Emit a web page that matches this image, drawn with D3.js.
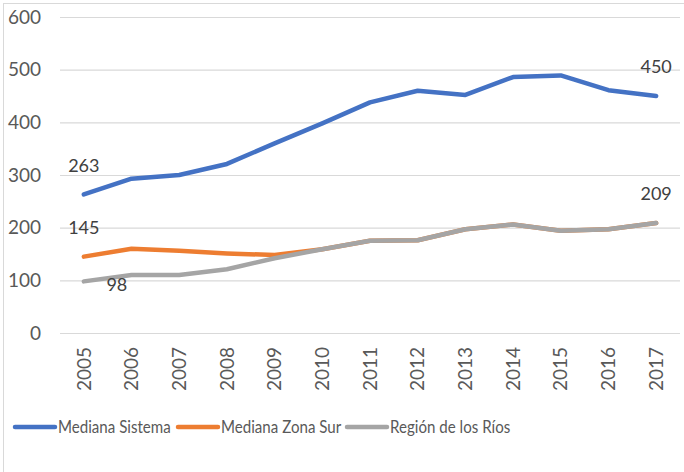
<!DOCTYPE html>
<html>
<head>
<meta charset="utf-8">
<script src="https://cdn.jsdelivr.net/npm/d3@7"></script>
<style>
  body { margin: 0; background: #fff; }
  svg { display: block; }
</style>
</head>
<body>
<div id="chart"></div>
<script>
'use strict'

// chart values
const years = ['2005', '2006', '2007', '2008', '2009', '2010', '2011', '2012', '2013', '2014', '2015', '2016', '2017']
const medianaSistema = [263, 293, 300, 321, 360, 398, 438, 460, 452, 486, 489, 461, 450]
const medianaZonaSur = [145, 160, 156, 151, 148, 159, 175, 176, 197, 206, 194, 197, 209]
const regionRios = [98, 110, 110, 121, 142, 159, 175, 176, 197, 206, 194, 197, 209]
const seriesNames = ['Mediana Sistema', 'Mediana Zona Sur', 'Región de los Ríos']
const seriesColors = ['#4472C4', '#ED7D31', '#A5A5A5']
const yTicks = [0, 100, 200, 300, 400, 500, 600]

const width = 684, height = 472
const margin = { top: 17, right: 4, bottom: 139, left: 60 }
const font = 'Lato, "Open Sans", sans-serif'

const svg = d3.select('#chart').append('svg')
    .attr('width', width)
    .attr('height', height)

// outer chart border
svg.append('rect')
    .attr('x', 3.5).attr('y', 3.5)
    .attr('width', width + 10).attr('height', height + 10)
    .attr('fill', 'none')
    .attr('stroke', '#d9d9d9')

const x = d3.scaleBand().domain(years).range([margin.left, width - margin.right])
const y = d3.scaleLinear().domain([0, 600]).range([height - margin.bottom, margin.top])
const cx = (d) => x(d) + x.bandwidth() / 2

// gridlines
svg.append('g')
    .selectAll('line')
    .data(yTicks)
    .join('line')
    .attr('x1', margin.left).attr('x2', width - margin.right)
    .attr('y1', (d) => y(d) + 0.5).attr('y2', (d) => y(d) + 0.5)
    .attr('stroke', '#d9d9d9')
    .attr('stroke-width', 1.2)

// y axis labels
const yAxis = svg.append('g')
    .attr('transform', `translate(41,0)`)
    .call(d3.axisLeft(y).tickValues(yTicks).tickSize(0).tickPadding(0))
yAxis.select('.domain').remove()
yAxis.selectAll('text')
    .attr('fill', '#595959')
    .style('font', `19px ${font}`)

// x axis labels, rotated
const xAxis = svg.append('g')
    .attr('transform', `translate(0,${y(0)})`)
    .call(d3.axisBottom(x).tickSize(0).tickPadding(0))
xAxis.select('.domain').remove()
xAxis.selectAll('text')
    .attr('fill', '#595959')
    .style('font', `19px ${font}`)
    .attr('text-anchor', 'end')
    .attr('dy', '0.35em')
    .attr('transform', 'translate(0,14) rotate(-90)')

const line = d3.line()
    .x((d, i) => cx(years[i]))
    .y((d) => y(d))

const allSeries = [medianaSistema, medianaZonaSur, regionRios]

svg.append('g')
    .selectAll('path')
    .data(allSeries)
    .join('path')
    .attr('d', (d) => line(d))
    .attr('fill', 'none')
    .attr('stroke', (d, i) => seriesColors[i])
    .attr('stroke-width', 4.5)
    .attr('stroke-linecap', 'round')
    .attr('stroke-linejoin', 'round')

// data labels
const labels = [
    { v: medianaSistema[0], i: 0, dx: 0, dy: -29 },
    { v: medianaSistema[12], i: 12, dx: 0, dy: -29 },
    { v: medianaZonaSur[0], i: 0, dx: 0, dy: -29 },
    { v: regionRios[12], i: 12, dx: 0, dy: -29 },
    { v: regionRios[0], i: 0, dx: 33, dy: 3 },
]
svg.append('g')
    .selectAll('text')
    .data(labels)
    .join('text')
    .attr('x', (d) => cx(years[d.i]) + d.dx)
    .attr('y', (d) => y(d.v) + d.dy)
    .attr('text-anchor', 'middle')
    .attr('dy', '0.35em')
    .attr('fill', '#404040')
    .style('font', `18px ${font}`)
    .text((d) => d.v)

// legend (text squeezed a bit horizontally, like the narrow font in the original)
const legendX = [14, 177, 346]
const legend = svg.append('g')
    .selectAll('g')
    .data(seriesNames)
    .join('g')
    .attr('transform', (d, i) => `translate(${legendX[i]},427)`)
legend.append('line')
    .attr('x1', 1).attr('x2', 41)
    .attr('stroke', (d, i) => seriesColors[i])
    .attr('stroke-width', 4.5)
    .attr('stroke-linecap', 'round')
legend.append('text')
    .attr('transform', 'translate(44,0) scale(0.84,1)')
    .attr('dy', '0.35em')
    .attr('fill', '#595959')
    .style('font', `18px ${font}`)
    .text((d) => d)
</script>
</body>
</html>
